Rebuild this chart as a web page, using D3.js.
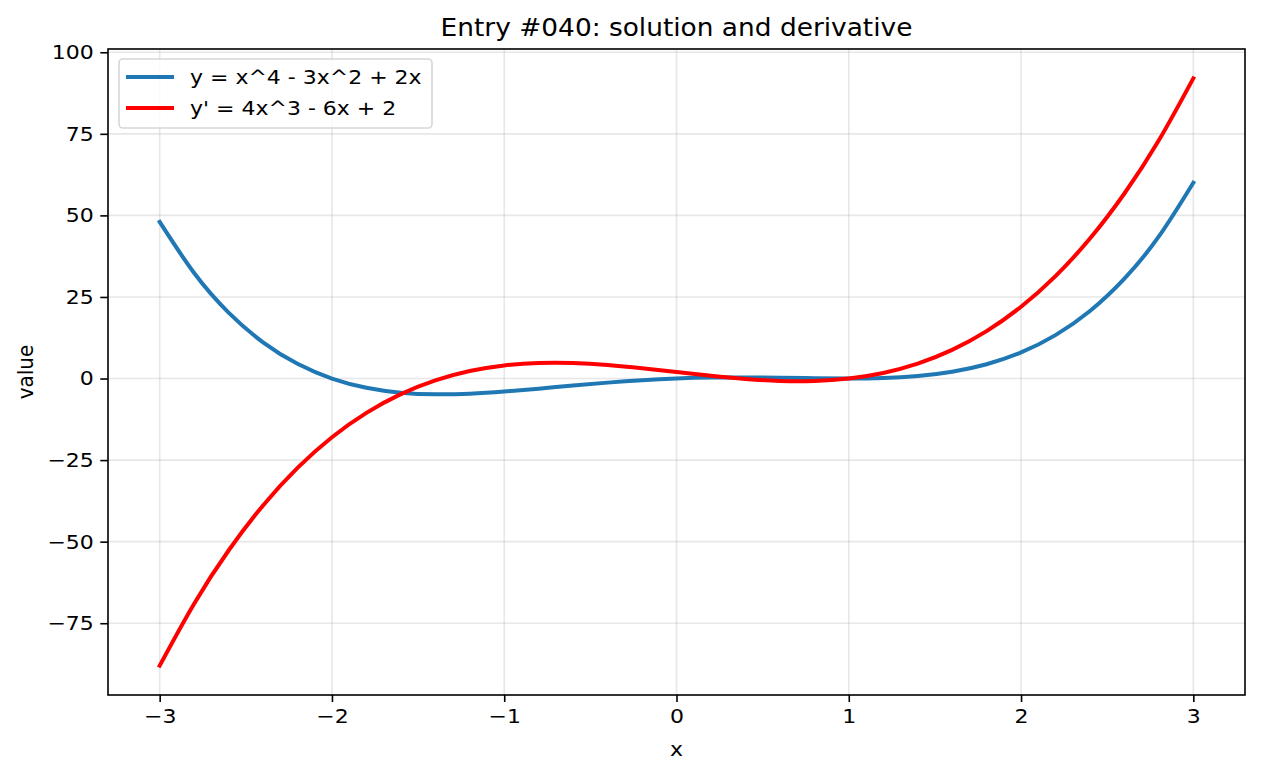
<!DOCTYPE html>
<html><head><meta charset="utf-8">
<script src="https://cdn.jsdelivr.net/npm/d3@7"></script>
<style>
html,body{margin:0;padding:0;background:#fff;}
svg{display:block;font-family:"DejaVu Sans",sans-serif;}
</style></head>
<body>
<svg id="chart" width="1262" height="776"></svg>
<script>
const xValues = [-3,-2.8,-2.6,-2.4,-2.2,-2,-1.8,-1.6,-1.4,-1.2,-1,-0.8,-0.6,-0.4,-0.2,0,0.2,0.4,0.6,0.8,1,1.2,1.4,1.6,1.8,2,2.2,2.4,2.6,2.8,3];
const ySolution = [48,32.3456,20.2176,11.0976,4.5056,0,-2.8224,-4.3264,-4.8384,-4.6464,-4,-3.1104,-2.1504,-1.2544,-0.5184,0,0.2816,0.3456,0.2496,0.0896,0,0.1536,0.7616,2.0736,4.3776,8,13.3056,20.6976,30.6176,43.5456,60];
const yDerivative = [-88,-69.008,-52.704,-38.896,-27.392,-18,-10.528,-4.784,-0.576,2.288,4,4.752,4.736,4.144,3.168,2,0.832,-0.144,-0.736,-0.752,0,1.712,4.576,8.784,14.528,22,31.392,42.896,56.704,73.008,92];
const xTicks = [-3,-2,-1,0,1,2,3];
const yTicks = [-75,-50,-25,0,25,50,75,100];
const seriesNames = ["y = x^4 - 3x^2 + 2x", "y' = 4x^3 - 6x + 2"];
const seriesColors = ["#1f77b4", "#ff0000"];

const SX = 1.1; // horizontal text stretch
const svg = d3.select("#chart");
const L = 108, R = 1245, T = 49, B = 695;
const x = d3.scaleLinear().domain([-3.3, 3.3]).range([L, R]);
const y = d3.scaleLinear().domain([-97, 101]).range([B, T]);
const fmt = d => (d < 0 ? "\u2212" + Math.abs(d) : String(d));

// grid
const g = svg.append("g");
g.selectAll(".gx").data(xTicks).enter().append("line")
  .attr("x1", d => x(d)).attr("x2", d => x(d)).attr("y1", T).attr("y2", B)
  .attr("stroke", "#b0b0b0").attr("stroke-opacity", 0.3).attr("stroke-width", 1.6);
g.selectAll(".gy").data(yTicks).enter().append("line")
  .attr("y1", d => y(d)).attr("y2", d => y(d)).attr("x1", L).attr("x2", R)
  .attr("stroke", "#b0b0b0").attr("stroke-opacity", 0.3).attr("stroke-width", 1.6);

// lines
const pts = vals => xValues.map((xv, i) => [xv, vals[i]]);
const line = d3.line().x(d => x(d[0])).y(d => y(d[1])).curve(d3.curveNatural);
[ySolution, yDerivative].forEach((vals, i) => {
  svg.append("path").attr("d", line(pts(vals))).attr("fill", "none")
    .attr("stroke", seriesColors[i]).attr("stroke-width", 4).attr("stroke-linecap", "square")
    .attr("stroke-linejoin", "round");
});

// axes
const xAxis = d3.axisBottom(x).tickValues(xTicks).tickFormat(fmt).tickSize(7).tickPadding(7);
const yAxis = d3.axisLeft(y).tickValues(yTicks).tickFormat(fmt).tickSize(7.7).tickPadding(6.5);
const gx = svg.append("g").attr("transform", `translate(0,${B})`).call(xAxis);
const gy = svg.append("g").attr("transform", `translate(${L},0)`).call(yAxis);
[gx, gy].forEach(a => {
  a.select(".domain").remove();
  a.selectAll("line").attr("stroke", "#000").attr("stroke-width", 1.6);
  a.selectAll("text").attr("font-size", 20).attr("fill", "#000").attr("font-family", "DejaVu Sans");
});
gx.selectAll("text").attr("transform", `scale(${SX},1)`);
gy.selectAll("text").attr("x", -(7.7 + 6.5) / SX).attr("transform", `scale(${SX},1)`);
svg.append("rect").attr("x", L).attr("y", T).attr("width", R - L).attr("height", B - T)
  .attr("fill", "none").attr("stroke", "#000").attr("stroke-width", 1.6);

// labels
svg.append("text").attr("transform", `translate(${(L + R) / 2},36) scale(${SX},1)`).attr("text-anchor", "middle")
  .attr("font-size", 24).text("Entry #040: solution and derivative");
svg.append("text").attr("transform", `translate(${(L + R) / 2},756) scale(${SX},1)`).attr("text-anchor", "middle")
  .attr("font-size", 20).text("x");
svg.append("text").attr("transform", `translate(33,${(T + B) / 2}) scale(${SX},1) rotate(-90)`).attr("text-anchor", "middle")
  .attr("font-size", 20).text("value");

// legend
const lg = svg.append("g");
lg.append("rect").attr("x", 119).attr("y", 59).attr("width", 313).attr("height", 69).attr("rx", 4)
  .attr("fill", "#fff").attr("fill-opacity", 0.8).attr("stroke", "#d6d6d6").attr("stroke-width", 1.6);
seriesNames.forEach((name, i) => {
  const yy = 77 + i * 31;
  lg.append("line").attr("x1", 128).attr("x2", 172).attr("y1", yy).attr("y2", yy)
    .attr("stroke", seriesColors[i]).attr("stroke-width", 4).attr("stroke-linecap", "square");
  lg.append("text").attr("transform", `translate(190,${yy + 7}) scale(${SX},1)`).attr("font-size", 20).text(name);
});
</script>
</body></html>
